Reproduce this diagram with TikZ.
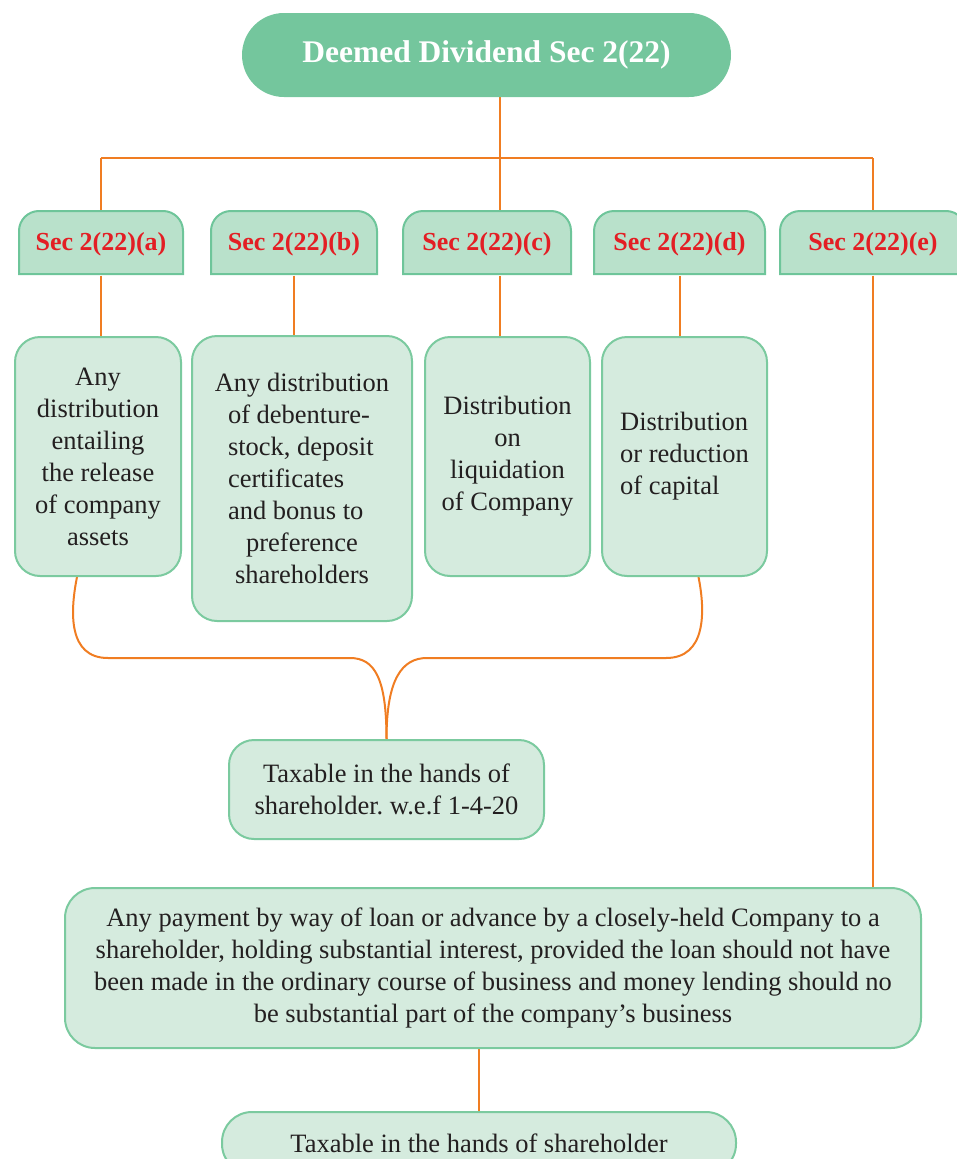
\documentclass[tikz,border=0pt]{standalone}
\usepackage{fontspec}
\setmainfont{Liberation Serif}
\usetikzlibrary{calc}
\frenchspacing

\definecolor{titlegreen}{HTML}{74C69D}
\definecolor{secfill}{HTML}{B9E1CB}
\definecolor{secedge}{HTML}{6EC59A}
\definecolor{boxfill}{HTML}{D5EBDE}
\definecolor{boxedge}{HTML}{7BCA9F}
\definecolor{linkorange}{HTML}{F07D22}
\definecolor{secred}{HTML}{E31E24}
\definecolor{ink}{HTML}{231F20}

\pgfdeclarelayer{links}
\pgfsetlayers{links,main}

% section tab: rounded top corners, square bottom corners
\newcommand\sectab[4]{%
  \filldraw[draw=secedge,fill=secfill,line width=2pt]
    (#1,#4) -- (#1,#3-20) arc[start angle=180,end angle=90,radius=20]
    -- (#2-20,#3) arc[start angle=90,end angle=0,radius=20]
    -- (#2,#4) -- cycle;}

\tikzset{
  link/.style={draw=linkorange,line width=2pt},
  seclabel/.style={text=secred,font=\bfseries\fontsize{26}{30}\selectfont,
    minimum height=63,inner sep=0pt},
  content/.style={draw=boxedge,fill=boxfill,line width=2pt,rounded corners=25,
    align=center,text=ink,font=\fontsize{26.5}{32}\selectfont,inner sep=0pt},
}

\begin{document}
\begin{tikzpicture}[x=1pt,y=1pt]
\useasboundingbox (0,0) rectangle (956,-1159);

% heading
\node[fill=titlegreen,rounded corners=42,minimum width=489,minimum height=84,
  text=white,font=\bfseries\fontsize{31.5}{36}\selectfont,inner sep=0pt]
  (title) at (486.5,-55) {Deemed Dividend Sec 2(22)};

% section tabs
\sectab{19}{183}{-211}{-274}
\sectab{211}{377}{-211}{-274}
\sectab{403}{571}{-211}{-274}
\sectab{594}{765}{-211}{-274}
\sectab{780}{966}{-211}{-274}
\node[seclabel,minimum width=164] (sa) at (101,-244) {Sec 2(22)(a)};
\node[seclabel,minimum width=166] (sb) at (294,-244) {Sec 2(22)(b)};
\node[seclabel,minimum width=168] (sc) at (487,-244) {Sec 2(22)(c)};
\node[seclabel,minimum width=171] (sd) at (679.5,-244) {Sec 2(22)(d)};
\node[seclabel,minimum width=186] (se) at (873,-244) {Sec 2(22)(e)};

% clause boxes
\node[content,minimum width=166,minimum height=239] (ca) at (98,-456.5)
  {Any\\distribution\\entailing\\the release\\of company\\assets};
\node[content,minimum width=220,minimum height=285] (cb) at (302,-478.5)
  {Any distribution\\
   \makebox[148pt][l]{of debenture-}\\
   \makebox[148pt][l]{stock, deposit}\\
   \makebox[148pt][l]{certificates}\\
   \makebox[148pt][l]{and bonus to}\\
   preference\\shareholders};
\node[content,minimum width=165,minimum height=239] (cc) at (507.5,-456.5)
  {Distribution\\on\\liquidation\\of Company};
\node[content,minimum width=165,minimum height=239,align=left] (cd) at (684.5,-456.5)
  {Distribution\\or reduction\\of capital};

\node[content,minimum width=315,minimum height=99] (tax) at (386.5,-789.5)
  {Taxable in the hands of\\shareholder. w.e.f 1-4-20};

\node[content,rounded corners=30,minimum width=856,minimum height=160] (loan) at (493,-968)
  {Any payment by way of loan or advance by a closely-held Company to a\\
   shareholder, holding substantial interest, provided the loan should not have\\
   been made in the ordinary course of business and money lending should no\\
   be substantial part of the company’s business};

\node[content,rounded corners=30,minimum width=514,minimum height=62] (bot) at (479,-1143)
  {Taxable in the hands of shareholder};

% connectors
\coordinate (busL) at (101,-158);
\coordinate (busR) at (873,-158);
\coordinate (dropc) at (500,-158);
\begin{pgfonlayer}{links}
\draw[link] (title.south -| dropc) -- (dropc);
\draw[link] (busL) -- (busR);
\draw[link] (busL) -- (sa.north);
\draw[link] (sa.north -| sb.north) -- (sb.north);
\draw[link] (dropc) -- (dropc |- sc.north);
\draw[link] (sa.north -| sd.north) -- (sd.north);
\draw[link] (busR) -- (se.north);
\draw[link] (sa.south) -- (sa.south |- ca.north);
\draw[link] (sb.south) -- (sb.south |- cb.north);
\draw[link] (dropc |- sc.south) -- (dropc |- cc.north);
\draw[link] (sd.south) -- (sd.south |- cd.north);
\draw[link] (se.south) -- (se.south |- loan.north);
\draw[link] ($(ca.south)+(-21,0)$) .. controls +(-7,-35) and +(-40,0) .. (108,-658)
  -- (350,-658) .. controls +(25,0) and +(0,60) .. (tax.north);
\draw[link] ($(cd.south)+(14,0)$) .. controls +(7,-35) and +(40,0) .. (666,-658)
  -- (427,-658) .. controls +(-25,0) and +(0,60) .. (tax.north);
\draw[link] (bot.north |- loan.south) -- (bot.north);
\end{pgfonlayer}
\end{tikzpicture}
\end{document}
